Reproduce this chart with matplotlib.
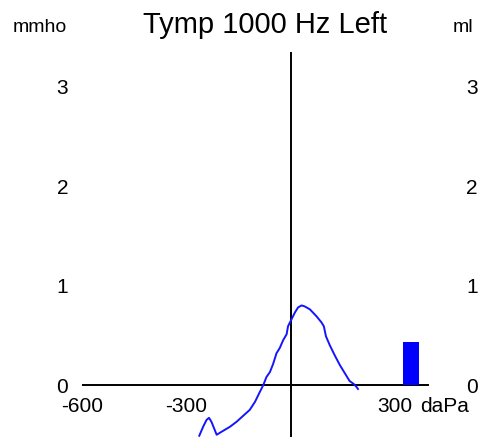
import matplotlib
matplotlib.use("Agg")
import matplotlib.pyplot as plt

plt.rcParams['font.family'] = ['Liberation Sans', 'DejaVu Sans']

# pressure (daPa) vs admittance (mmho)
pressure = [-263, -252, -242, -235, -228, -213, -199, -175, -156, -137, -118,
            -103, -89, -79, -70, -60, -51, -41, -32, -22, -12, -8, 2, 12, 21,
            31, 40, 55, 74, 88, 95, 101, 112, 126, 141, 155, 169, 181, 189, 193]
admittance = [-0.51, -0.42, -0.35, -0.33, -0.37, -0.50, -0.47, -0.42, -0.37,
              -0.31, -0.25, -0.17, -0.07, 0.0, 0.08, 0.13, 0.21, 0.32, 0.37,
              0.45, 0.51, 0.59, 0.66, 0.73, 0.78, 0.80, 0.79, 0.76, 0.69,
              0.63, 0.59, 0.49, 0.40, 0.30, 0.20, 0.12, 0.04, 0.01, -0.02, -0.04]

# ear canal volume bar (ml)
volume_pos = 345
volume_ml = 0.43

y_ticks = [0, 1, 2, 3]
x_ticks = [-600, -300, 300]

fig = plt.figure(figsize=(4.82, 4.37), dpi=100)
ax = fig.add_axes([82 / 482, 0, 348 / 482, 1 - 52 / 437])
ax.set_xlim(-600, 400)
ax.set_ylim(-0.5226, 3.347)
for s in ax.spines.values():
    s.set_visible(False)

ax.plot([-600, 394], [0, 0], color='black', lw=1.4, zorder=2)
ax.axvline(0, color='black', lw=1.4, zorder=2)
ax.plot(pressure, admittance, color='#1414ff', lw=1.4, zorder=3)
ax.bar(volume_pos, volume_ml, width=45, color='#0000ff', zorder=3)

ax.set_yticks(y_ticks)
ax.set_yticklabels([str(v) for v in y_ticks])
ax.tick_params(axis='y', length=0, pad=10, labelsize=15)
ax.set_xticks([])
for xv in x_ticks:
    ax.text(xv, -0.22, str(xv), ha='center', va='center', fontsize=15)
ax.text(442, -0.22, 'daPa', ha='center', va='center', fontsize=15)

ax2 = ax.twinx()
ax2.set_ylim(ax.get_ylim())
ax2.set_yticks(y_ticks)
ax2.set_yticklabels([str(v) for v in y_ticks])
ax2.tick_params(axis='y', length=0, pad=26, labelsize=15)
for s in ax2.spines.values():
    s.set_visible(False)

fig.text(265 / 482, 1 - 25 / 437, 'Tymp 1000 Hz Left', ha='center', va='center', fontsize=21)
fig.text(40 / 482, 1 - 28 / 437, 'mmho', ha='center', va='center', fontsize=14)
fig.text(463 / 482, 1 - 28 / 437, 'ml', ha='center', va='center', fontsize=14)

fig.savefig('out.png', dpi=100)
